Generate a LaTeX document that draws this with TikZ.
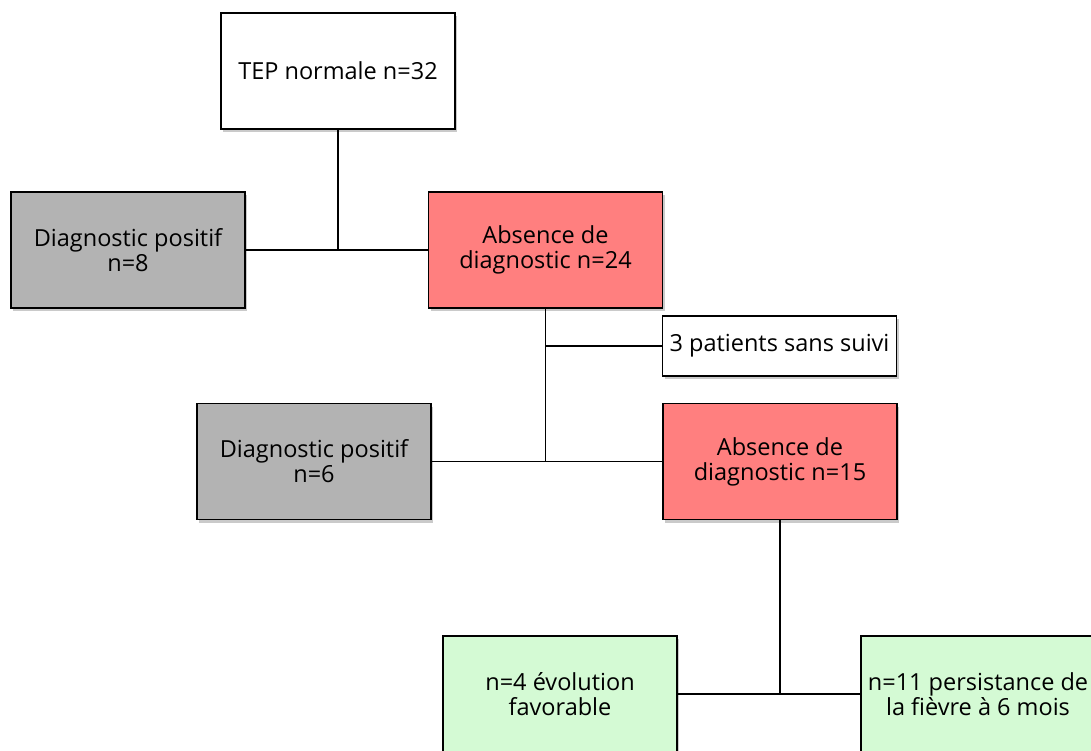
\documentclass[tikz,border=0pt]{standalone}
\usepackage{fontspec}
\setmainfont{Open Sans}
\usetikzlibrary{shadows}
\definecolor{grayfill}{HTML}{B3B3B3}
\definecolor{redfill}{HTML}{FF7F7F}
\definecolor{greenfill}{HTML}{D4FAD4}
\tikzset{
  box/.style={draw=black, line width=1.4pt, minimum width=234pt, minimum height=116pt,
    align=center, inner sep=1pt, font=\fontsize{23.5}{25}\selectfont,
    drop shadow={shadow xshift=2pt, shadow yshift=-3pt, opacity=0.35, fill=black!60}},
  smallbox/.style={box, minimum height=60pt},
  conn/.style={line width=1.3pt, black}
}
\begin{document}
\begin{tikzpicture}[x=1pt,y=-1pt]
\useasboundingbox (0,0) rectangle (1091,751);
\clip (0,0) rectangle (1091,751);
\node[box, fill=white] (tep) at (338,71) {TEP normale n=32};
\node[box, fill=grayfill] (dp1) at (128,250) {Diagnostic positif\\n=8};
\node[box, fill=redfill] (ab24) at (545.5,250) {Absence de\\diagnostic n=24};
\node[smallbox, fill=white] (sans) at (779.5,346) {3 patients sans suivi};
\node[box, fill=grayfill] (dp2) at (314,461.5) {Diagnostic positif\\n=6};
\node[box, fill=redfill] (ab15) at (780,461.5) {Absence de\\diagnostic n=15};
\node[box, fill=greenfill] (evo) at (560,694) {n=4 évolution\\favorable};
\node[box, fill=greenfill] (pers) at (978,694) {n=11 persistance de\\la fièvre à 6 mois};
\draw[conn] (tep.south) -- (tep.south |- dp1.east);
\draw[conn] (dp1.east) -- (ab24.west);
\draw[conn] (ab24.south) -- (ab24.south |- dp2.east);
\draw[conn] (ab24.south |- sans.west) -- (sans.west);
\draw[conn] (dp2.east) -- (ab15.west);
\draw[conn] (ab15.south) -- (ab15.south |- evo.east);
\draw[conn] (evo.east) -- (pers.west);
\end{tikzpicture}
\end{document}
